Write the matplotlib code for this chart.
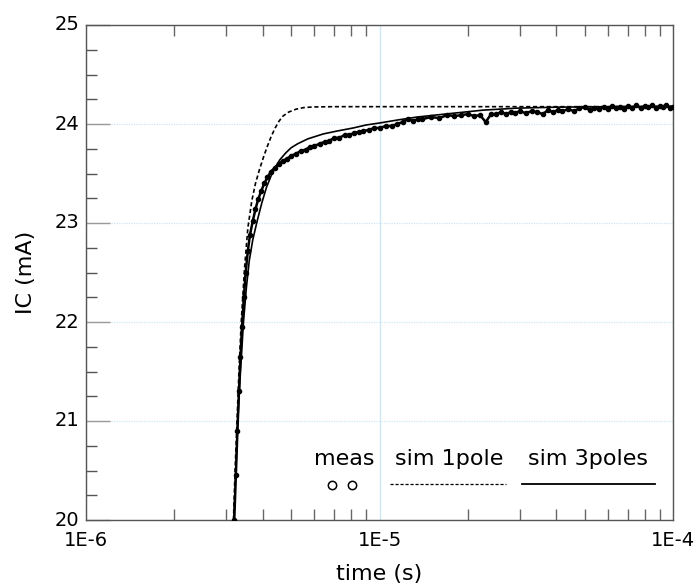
import matplotlib
matplotlib.use("Agg")
import matplotlib.pyplot as plt
from matplotlib.ticker import FixedLocator, NullFormatter

# --- dados (tempo em microssegundos, IC em mA) ---
meas_t_us = [3.20, 3.24, 3.28, 3.32, 3.36, 3.40, 3.45, 3.50, 3.56, 3.62, 3.70, 3.78, 3.86, 3.95,
             4.05, 4.15, 4.27, 4.40, 4.55, 4.70, 4.85, 5.00, 5.20, 5.40, 5.60, 5.80, 6.00, 6.25,
             6.50, 6.75, 7.00, 7.30, 7.60, 7.90, 8.20, 8.50, 8.80, 9.20, 9.60, 10.0, 10.5, 11.0,
             11.5, 12.0, 12.5, 13.0, 13.5, 14.0, 15.0, 16.0, 17.0, 18.0, 19.0, 20.0, 21.0, 22.0,
             23.0, 24.0, 25.0, 26.0, 27.0, 28.0, 29.0, 30.0, 31.5, 33.0, 34.5, 36.0, 37.5, 39.0,
             40.5, 42.0, 44.0, 46.0, 48.0, 50.0, 52.0, 54.0, 56.0, 58.0, 60.0, 62.0, 64.0, 66.0,
             68.0, 70.0, 72.5, 75.0, 77.5, 80.0, 82.5, 85.0, 87.5, 90.0, 92.5, 95.0, 97.5, 100.0]
meas_ic = [20.00, 20.45, 20.90, 21.30, 21.65, 21.95, 22.25, 22.50, 22.72, 22.88, 23.02, 23.14, 23.24, 23.32,
           23.40, 23.46, 23.52, 23.56, 23.60, 23.63, 23.65, 23.68, 23.70, 23.73, 23.74, 23.77, 23.78, 23.80,
           23.82, 23.83, 23.86, 23.86, 23.89, 23.89, 23.91, 23.92, 23.93, 23.94, 23.96, 23.96, 23.98, 23.98,
           24.00, 24.02, 24.05, 24.03, 24.05, 24.05, 24.07, 24.06, 24.09, 24.08, 24.09, 24.10, 24.08, 24.09,
           24.02, 24.10, 24.10, 24.12, 24.10, 24.12, 24.11, 24.13, 24.11, 24.13, 24.12, 24.10, 24.14, 24.12,
           24.14, 24.13, 24.15, 24.13, 24.16, 24.17, 24.14, 24.16, 24.15, 24.17, 24.15, 24.18, 24.16, 24.17,
           24.15, 24.18, 24.16, 24.19, 24.16, 24.18, 24.17, 24.19, 24.16, 24.18, 24.17, 24.19, 24.16, 24.17]

sim1_t_us = [3.18, 3.22, 3.27, 3.32, 3.38, 3.47, 3.56, 3.67, 3.78, 3.90, 4.02, 4.13, 4.27, 4.41,
             4.55, 4.69, 4.90, 5.20, 5.50, 5.90, 7.00, 100.0]
sim1_ic = [20.0, 20.5, 21.0, 21.5, 22.0, 22.55, 22.95, 23.22, 23.40, 23.54, 23.66, 23.76, 23.87, 23.96,
           24.03, 24.08, 24.12, 24.15, 24.165, 24.172, 24.175, 24.175]

sim3_t_us = [3.19, 3.24, 3.29, 3.36, 3.44, 3.52, 3.60, 3.70, 3.83, 3.97, 4.12, 4.29, 4.45, 4.58,
             4.80, 5.00, 5.26, 5.70, 6.44, 7.20, 8.14, 9.00, 10.0, 11.5, 13.4, 15.5, 18.0, 22.5,
             29.3, 40.0, 60.0, 100.0]
sim3_ic = [20.0, 20.5, 21.0, 21.5, 22.0, 22.35, 22.62, 22.83, 23.02, 23.20, 23.36, 23.49, 23.58, 23.64,
           23.71, 23.76, 23.80, 23.85, 23.90, 23.93, 23.96, 23.99, 24.01, 24.04, 24.07, 24.09, 24.11, 24.14,
           24.16, 24.17, 24.175, 24.18]

xticks = [1e-6, 1e-5, 1e-4]
xtick_labels = ["1E-6", "1E-5", "1E-4"]
yticks = [20, 21, 22, 23, 24, 25]
legend_labels = ["meas", "sim 1pole", "sim 3poles"]

GRID = "#cfe6f4"
SPINE = "#555555"

fig = plt.figure(figsize=(6.99, 5.86), dpi=100)
ax = fig.add_axes([86 / 699, 1 - 520 / 586, 587 / 699, 495 / 586])

meas_t = [t * 1e-6 for t in meas_t_us]
sim1_t = [t * 1e-6 for t in sim1_t_us]
sim3_t = [t * 1e-6 for t in sim3_t_us]

ax.plot(meas_t, meas_ic, color="black", lw=1.8, marker="o", ms=3.0, mfc="black", mec="black", zorder=3)
ax.plot(sim1_t, sim1_ic, color="black", lw=1.2, dashes=(2.5, 1.6), zorder=4)
ax.plot(sim3_t, sim3_ic, color="black", lw=1.2, zorder=4)

ax.set_xscale("log")
ax.set_xlim(1e-6, 1e-4)
ax.set_ylim(20, 25)

# eixo x
ax.set_xticks(xticks)
ax.set_xticklabels(xtick_labels)
ax.xaxis.set_minor_locator(FixedLocator([m * d for d in (1e-6, 1e-5) for m in range(2, 10)]))
ax.xaxis.set_minor_formatter(NullFormatter())
ax.tick_params(axis="x", which="major", length=0, pad=8, labelsize=14)
ax.tick_params(axis="x", which="minor", direction="in", length=8, width=1,
               color="#666666", top=True, bottom=True)

# eixo y
ax.set_yticks(yticks)
ax.set_yticks([20 + 0.25 * i for i in range(21) if i % 4 != 0], minor=True)
ax.tick_params(axis="y", which="major", direction="in", length=17, width=1,
               color="#999999", pad=5, labelsize=14)
ax.tick_params(axis="y", which="minor", direction="in", length=8, width=1, color="#555555")
for lbl in ax.get_yticklabels():
    lbl.set_verticalalignment("center")

ax.grid(True, axis="y", which="major", color=GRID, lw=0.9, ls=(0, (1, 1)))
ax.grid(True, axis="x", which="major", color=GRID, lw=1.0, ls="-")
ax.set_axisbelow(True)

for s in ax.spines.values():
    s.set_color(SPINE)
    s.set_linewidth(1.0)

ax.set_xlabel("time (s)", fontsize=16)
ax.xaxis.set_label_coords(0.5, -0.088)
ax.set_ylabel("IC (mA)", fontsize=16)
ax.yaxis.set_label_coords(-0.085, 0.5)

# legenda manual (texto por cima do símbolo)
tr = ax.transAxes
ax.text(0.440, 0.123, legend_labels[0], transform=tr, ha="center", va="center", fontsize=16)
ax.text(0.618, 0.123, legend_labels[1], transform=tr, ha="center", va="center", fontsize=16)
ax.text(0.855, 0.123, legend_labels[2], transform=tr, ha="center", va="center", fontsize=16)
ax.plot([0.419, 0.453], [0.071, 0.071], transform=tr, ls="none", marker="o", ms=6,
        mfc="white", mec="black", mew=1.1, clip_on=False)
ax.plot([0.518, 0.7155], [0.0727, 0.0727], transform=tr, color="black", lw=0.9, dashes=(2.5, 1.5))
ax.plot([0.743, 0.969], [0.0727, 0.0727], transform=tr, color="black", lw=1.3)

fig.savefig("out.png", dpi=100)
